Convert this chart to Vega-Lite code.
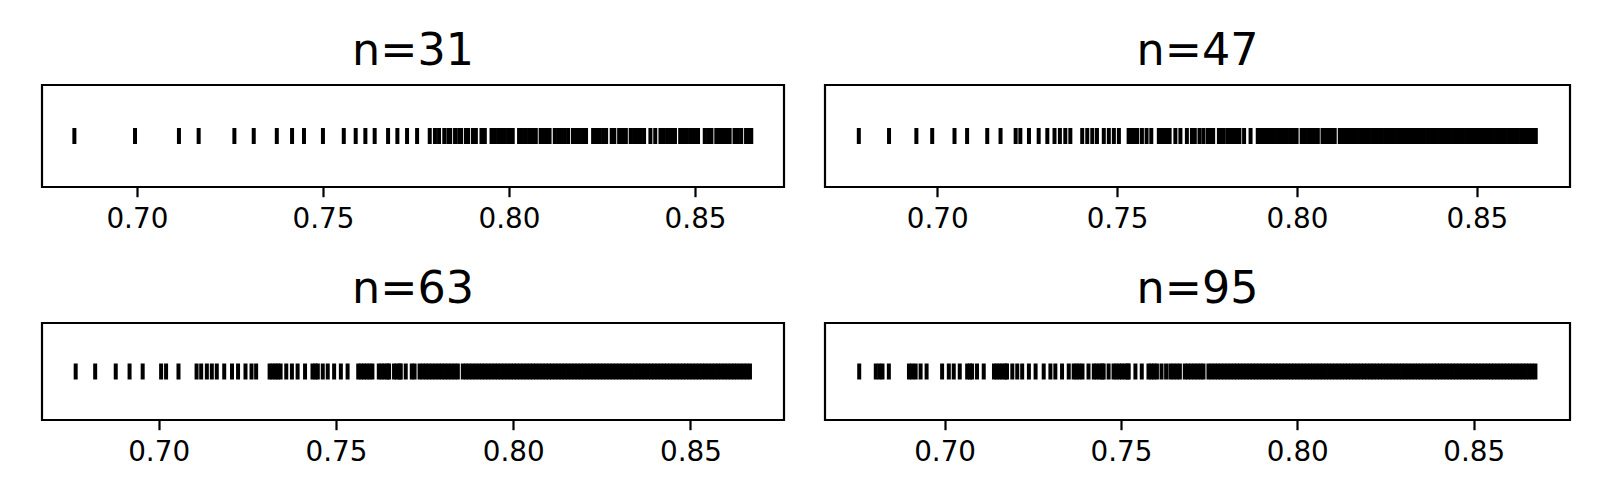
{
  "$schema": "https://vega.github.io/schema/vega-lite/v6.json",
  "background": "white",
  "padding": {"left": 40, "top": 27, "right": 0, "bottom": 0},
  "columns": 2,
  "align": "each",
  "bounds": "flush",
  "spacing": {"row": 136, "column": 41},
  "concat": [
    {
      "width": 742, "height": 102,
      "title": "n=31",
      "data": {"values": [0.6832, 0.6995, 0.7113, 0.7166, 0.7262, 0.7314, 0.7376, 0.7417, 0.7449, 0.7500, 0.7556, 0.7588, 0.7614, 0.7639, 0.7675, 0.7700, 0.7726, 0.7753, 0.7787, 0.7801, 0.7812, 0.7826, 0.7837, 0.7842, 0.7855, 0.7866, 0.7871, 0.7884, 0.7890, 0.7903, 0.7911, 0.7926, 0.7935, 0.7953, 0.7962, 0.7971, 0.7980, 0.7989, 0.7998, 0.8007, 0.8010, 0.8027, 0.8036, 0.8045, 0.8054, 0.8063, 0.8072, 0.8085, 0.8094, 0.8103, 0.8109, 0.8123, 0.8132, 0.8141, 0.8150, 0.8159, 0.8172, 0.8181, 0.8190, 0.8199, 0.8207, 0.8226, 0.8235, 0.8244, 0.8253, 0.8261, 0.8276, 0.8283, 0.8296, 0.8305, 0.8314, 0.8327, 0.8336, 0.8345, 0.8354, 0.8363, 0.8380, 0.8393, 0.8407, 0.8416, 0.8425, 0.8434, 0.8443, 0.8446, 0.8460, 0.8469, 0.8478, 0.8487, 0.8496, 0.8505, 0.8508, 0.8526, 0.8535, 0.8544, 0.8557, 0.8566, 0.8575, 0.8584, 0.8593, 0.8606, 0.8615, 0.8624, 0.8637, 0.8646, 0.8651]},
      "mark": {"type": "tick", "color": "black", "opacity": 1, "thickness": 4, "size": 16},
      "encoding": {"x": {"field": "data", "type": "quantitative", "scale": {"domain": [0.6745, 0.8739], "nice": false, "zero": false}, "axis": {"values": [0.70, 0.75, 0.80, 0.85], "format": ".2f"}}}
    },
    {
      "width": 745, "height": 102,
      "title": "n=47",
      "data": {"values": [0.6782, 0.6866, 0.6942, 0.6986, 0.7048, 0.7083, 0.7139, 0.7176, 0.7218, 0.7231, 0.7255, 0.7282, 0.7306, 0.7326, 0.7341, 0.7356, 0.7370, 0.7403, 0.7417, 0.7431, 0.7444, 0.7463, 0.7477, 0.7491, 0.7505, 0.7532, 0.7540, 0.7548, 0.7556, 0.7569, 0.7582, 0.7595, 0.7616, 0.7624, 0.7632, 0.7640, 0.7646, 0.7662, 0.7676, 0.7694, 0.7708, 0.7716, 0.7729, 0.7740, 0.7752, 0.7760, 0.7767, 0.7783, 0.7791, 0.7795, 0.7806, 0.7815, 0.7824, 0.7833, 0.7840, 0.7853, 0.7871, 0.7891, 0.7900, 0.7909, 0.7918, 0.7927, 0.7936, 0.7945, 0.7954, 0.7963, 0.7972, 0.7981, 0.7990, 0.7999, 0.8013, 0.8022, 0.8031, 0.8040, 0.8049, 0.8058, 0.8071, 0.8080, 0.8089, 0.8098, 0.8105, 0.8119, 0.8128, 0.8137, 0.8146, 0.8155, 0.8164, 0.8173, 0.8182, 0.8191, 0.8200, 0.8209, 0.8218, 0.8227, 0.8236, 0.8245, 0.8254, 0.8263, 0.8272, 0.8281, 0.8290, 0.8299, 0.8308, 0.8317, 0.8326, 0.8335, 0.8344, 0.8353, 0.8362, 0.8371, 0.8380, 0.8389, 0.8398, 0.8407, 0.8416, 0.8425, 0.8434, 0.8443, 0.8452, 0.8461, 0.8470, 0.8479, 0.8488, 0.8497, 0.8506, 0.8515, 0.8524, 0.8533, 0.8542, 0.8551, 0.8560, 0.8569, 0.8578, 0.8587, 0.8596, 0.8605, 0.8614, 0.8623, 0.8632, 0.8641, 0.8650, 0.8659, 0.8664]},
      "mark": {"type": "tick", "color": "black", "opacity": 1, "thickness": 4, "size": 16},
      "encoding": {"x": {"field": "data", "type": "quantitative", "scale": {"domain": [0.6688, 0.8759], "nice": false, "zero": false}, "axis": {"values": [0.70, 0.75, 0.80, 0.85], "format": ".2f"}}}
    },
    {
      "width": 742, "height": 97,
      "title": "n=63",
      "data": {"values": [0.6766, 0.6821, 0.6879, 0.6918, 0.6955, 0.7007, 0.7021, 0.7056, 0.7107, 0.7120, 0.7136, 0.7150, 0.7164, 0.7185, 0.7207, 0.7224, 0.7245, 0.7262, 0.7275, 0.7313, 0.7321, 0.7329, 0.7336, 0.7344, 0.7360, 0.7376, 0.7392, 0.7413, 0.7434, 0.7442, 0.7449, 0.7463, 0.7477, 0.7495, 0.7514, 0.7533, 0.7563, 0.7571, 0.7579, 0.7587, 0.7595, 0.7603, 0.7621, 0.7629, 0.7637, 0.7645, 0.7650, 0.7664, 0.7672, 0.7680, 0.7683, 0.7697, 0.7714, 0.7722, 0.7736, 0.7745, 0.7754, 0.7763, 0.7772, 0.7781, 0.7790, 0.7799, 0.7808, 0.7817, 0.7826, 0.7835, 0.7844, 0.7858, 0.7867, 0.7876, 0.7885, 0.7894, 0.7903, 0.7912, 0.7921, 0.7930, 0.7939, 0.7948, 0.7957, 0.7966, 0.7975, 0.7984, 0.7993, 0.8002, 0.8011, 0.8020, 0.8029, 0.8038, 0.8047, 0.8056, 0.8065, 0.8074, 0.8083, 0.8092, 0.8101, 0.8110, 0.8119, 0.8128, 0.8137, 0.8146, 0.8155, 0.8164, 0.8173, 0.8182, 0.8191, 0.8200, 0.8209, 0.8218, 0.8227, 0.8236, 0.8245, 0.8254, 0.8263, 0.8272, 0.8281, 0.8290, 0.8299, 0.8308, 0.8317, 0.8326, 0.8335, 0.8344, 0.8353, 0.8362, 0.8371, 0.8380, 0.8389, 0.8398, 0.8407, 0.8416, 0.8425, 0.8434, 0.8443, 0.8452, 0.8461, 0.8470, 0.8479, 0.8488, 0.8497, 0.8506, 0.8515, 0.8524, 0.8533, 0.8542, 0.8551, 0.8560, 0.8569, 0.8578, 0.8587, 0.8596, 0.8605, 0.8614, 0.8623, 0.8632, 0.8641, 0.8650, 0.8659, 0.8668]},
      "mark": {"type": "tick", "color": "black", "opacity": 1, "thickness": 4, "size": 16},
      "encoding": {"x": {"field": "data", "type": "quantitative", "scale": {"domain": [0.6671, 0.8764], "nice": false, "zero": false}, "axis": {"values": [0.70, 0.75, 0.80, 0.85], "format": ".2f"}}}
    },
    {
      "width": 745, "height": 97,
      "title": "n=95",
      "data": {"values": [0.6758, 0.6805, 0.6815, 0.6824, 0.6842, 0.6899, 0.6908, 0.6918, 0.6932, 0.6949, 0.6993, 0.7012, 0.7026, 0.7043, 0.7064, 0.7072, 0.7078, 0.7092, 0.7111, 0.7140, 0.7148, 0.7156, 0.7164, 0.7172, 0.7177, 0.7192, 0.7206, 0.7220, 0.7239, 0.7258, 0.7281, 0.7300, 0.7314, 0.7333, 0.7352, 0.7366, 0.7374, 0.7382, 0.7391, 0.7408, 0.7423, 0.7431, 0.7439, 0.7447, 0.7451, 0.7465, 0.7479, 0.7487, 0.7495, 0.7503, 0.7511, 0.7519, 0.7522, 0.7541, 0.7559, 0.7578, 0.7586, 0.7594, 0.7602, 0.7615, 0.7628, 0.7640, 0.7649, 0.7658, 0.7667, 0.7681, 0.7690, 0.7699, 0.7708, 0.7717, 0.7726, 0.7734, 0.7748, 0.7757, 0.7766, 0.7775, 0.7784, 0.7793, 0.7802, 0.7811, 0.7820, 0.7829, 0.7838, 0.7847, 0.7856, 0.7865, 0.7874, 0.7883, 0.7892, 0.7901, 0.7910, 0.7919, 0.7928, 0.7937, 0.7946, 0.7955, 0.7964, 0.7973, 0.7982, 0.7991, 0.8000, 0.8009, 0.8018, 0.8027, 0.8036, 0.8045, 0.8054, 0.8063, 0.8072, 0.8081, 0.8090, 0.8099, 0.8108, 0.8117, 0.8126, 0.8135, 0.8144, 0.8153, 0.8162, 0.8171, 0.8180, 0.8189, 0.8198, 0.8207, 0.8216, 0.8225, 0.8234, 0.8243, 0.8252, 0.8261, 0.8270, 0.8279, 0.8288, 0.8297, 0.8306, 0.8315, 0.8324, 0.8333, 0.8342, 0.8351, 0.8360, 0.8369, 0.8378, 0.8387, 0.8396, 0.8405, 0.8414, 0.8423, 0.8432, 0.8441, 0.8450, 0.8459, 0.8468, 0.8477, 0.8486, 0.8495, 0.8504, 0.8513, 0.8522, 0.8531, 0.8540, 0.8549, 0.8558, 0.8567, 0.8576, 0.8585, 0.8594, 0.8603, 0.8612, 0.8621, 0.8630, 0.8639, 0.8648, 0.8657, 0.8666, 0.8675]},
      "mark": {"type": "tick", "color": "black", "opacity": 1, "thickness": 4, "size": 16},
      "encoding": {"x": {"field": "data", "type": "quantitative", "scale": {"domain": [0.6661, 0.8773], "nice": false, "zero": false}, "axis": {"values": [0.70, 0.75, 0.80, 0.85], "format": ".2f"}}}
    }
  ],
  "config": {
    "font": "DejaVu Sans",
    "view": {"stroke": "black", "strokeWidth": 2.2},
    "axis": {"domain": false, "grid": false, "title": null, "ticks": true, "tickColor": "black", "tickWidth": 2.2, "tickSize": 9.7, "labelFontSize": 27.8, "labelColor": "black", "labelFont": "DejaVu Sans", "labelPadding": 9, "labelFlush": false},
    "title": {"fontSize": 44.4, "fontWeight": "normal", "color": "black", "font": "DejaVu Sans", "anchor": "middle", "baseline": "alphabetic", "offset": 11}
  }
}
